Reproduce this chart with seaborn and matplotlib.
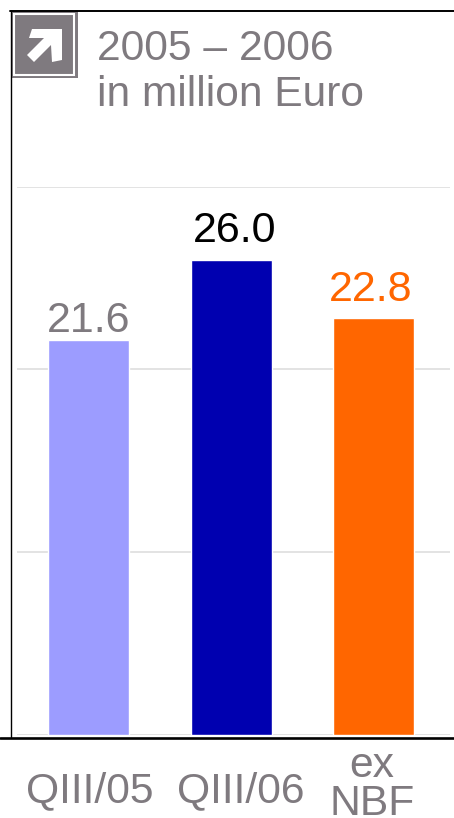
import matplotlib
matplotlib.use("Agg")
import matplotlib.pyplot as plt
from matplotlib.lines import Line2D
from matplotlib.patches import Polygon, Rectangle
import pandas as pd
import seaborn as sns

categories = ["QIII/05", "QIII/06", "ex\nNBF"]
values = [21.6, 26.0, 22.8]
value_labels = ["21.6", "26.0", "22.8"]
bar_colors = ["#9C9CFF", "#0000B0", "#FF6600"]
label_colors = ["#7F7A7F", "#000000", "#FF6600"]
y_ticks = [0, 10, 20, 30]
title_lines = ["2005 \u2013 2006", "in million Euro"]

W, H = 454, 818
GREY = "#7F7A7F"

sns.set_theme(style="white")
plt.rcParams["font.family"] = ["Liberation Sans", "DejaVu Sans"]


def fx(px):
    return px / W


def fy(py):
    return 1 - py / H


df = pd.DataFrame({"period": categories, "value": values})

fig = plt.figure(figsize=(W / 100, H / 100), dpi=100)
ax = fig.add_axes([fx(17), fy(734.5), fx(450) - fx(17), fy(186.5) - fy(734.5)])

sns.barplot(data=df, x="period", y="value", hue="period", palette=bar_colors,
            legend=False, width=0.568, saturation=1, zorder=3, ax=ax)
ax.set_xlim(-0.502, 2.536)
ax.set_ylim(0, 30)
ax.set_yticks(y_ticks)
ax.tick_params(left=False, labelleft=False, bottom=False, labelbottom=False)
ax.set_xlabel("")
ax.set_ylabel("")
ax.grid(axis="y", color="#DEDEDE", linewidth=1.2, zorder=0)
ax.set_axisbelow(True)
sns.despine(ax=ax, left=True, bottom=True, top=True, right=True)

# the labels are not centred the same way on every bar in the original
label_dx = [0.5, 3.5, -2.5]
label_dy = [8, 18, 17]
for i, v in enumerate(values):
    ax.annotate(value_labels[i], (i, v), xytext=(label_dx[i] * 0.72, label_dy[i] * 0.72),
                textcoords="offset points", ha="center", va="baseline", fontsize=31,
                color=label_colors[i], zorder=4)

# category labels sit below the frame line, so put them in by hand
cat_x = [89.5, 240.5, 372]
cat_y = [802, 802, 815]
for i, name in enumerate(categories):
    fig.text(fx(cat_x[i]), fy(cat_y[i]), name, ha="center", va="baseline", fontsize=30.7,
             color=GREY, linespacing=0.92)

fig.text(fx(97), fy(60), title_lines[0], fontsize=30.7, color=GREY, va="baseline")
fig.text(fx(97), fy(106), title_lines[1], fontsize=30.6, color=GREY, va="baseline")

# frame
fig.add_artist(Line2D([fx(10), 1], [fy(11), fy(11)], color="black", lw=1.4))
fig.add_artist(Line2D([fx(10.5), fx(10.5)], [fy(11), fy(737)], color="black", lw=1.0))
fig.add_artist(Line2D([0, 1], [fy(737.5), fy(737.5)], color="black", lw=1.9))

# arrow icon
fig.add_artist(Rectangle((fx(10.5), fy(78)), fx(67.5), fy(10.5) - fy(78), color=GREY, lw=0))
fig.add_artist(Rectangle((fx(14), fy(75)), fx(60), fy(14) - fy(75), facecolor="none",
                         edgecolor="white", lw=1.5))
arrow = [(32, 29), (62, 29), (62, 60), (52, 62), (51, 45), (34, 62), (27, 55), (44, 38), (29, 38)]
fig.add_artist(Polygon([(fx(x), fy(y)) for x, y in arrow], closed=True, color="white", lw=0))

fig.savefig("out.png", dpi=100)
